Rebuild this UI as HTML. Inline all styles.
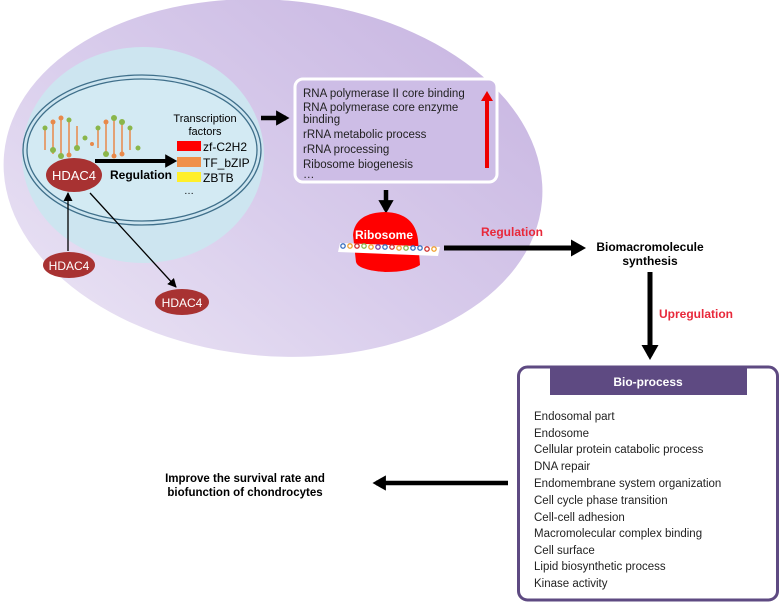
<!DOCTYPE html>
<html><head><style>body{margin:0;background:#fff}svg{display:block}</style></head><body>
<svg width="782" height="604" viewBox="0 0 782 604" xmlns="http://www.w3.org/2000/svg" font-family="Liberation Sans, Arial, sans-serif">
<defs>
<linearGradient id="cell" x1="1" y1="0" x2="0" y2="1"><stop offset="0" stop-color="#c6b3e0"/><stop offset="0.55" stop-color="#d9cdec"/><stop offset="1" stop-color="#ece6f5"/></linearGradient>
<marker id="ah" markerWidth="3" markerHeight="3.4" refX="2.2" refY="1.7" orient="auto" markerUnits="strokeWidth"><path d="M0,0 L3,1.7 L0,3.4 Z" fill="#000"/></marker>
<marker id="at" markerWidth="9" markerHeight="9" refX="8" refY="4.5" orient="auto" markerUnits="userSpaceOnUse"><path d="M0,0 L9,4.5 L0,9 Z" fill="#000"/></marker>
</defs>
<ellipse cx="273" cy="178" rx="270" ry="178" fill="url(#cell)" transform="rotate(5 273 178)"/>
<ellipse cx="143" cy="155" rx="121" ry="108" fill="#cde5f0"/>
<ellipse cx="142" cy="150" rx="119" ry="75" fill="none" stroke="#3f6f8a" stroke-width="1.3"/>
<ellipse cx="142" cy="150" rx="115" ry="71" fill="#d3eaf3" stroke="#3f6f8a" stroke-width="1.3"/>
<!-- DNA -->
<g stroke="#e8894a" stroke-width="1.5">
<line x1="45" y1="128" x2="45" y2="150"/><line x1="53" y1="122" x2="53" y2="154"/><line x1="61" y1="118" x2="61" y2="156"/><line x1="69" y1="120" x2="69" y2="155"/><line x1="77" y1="126" x2="77" y2="150"/>
<line x1="98" y1="130" x2="98" y2="148"/><line x1="106" y1="122" x2="106" y2="154"/><line x1="114" y1="118" x2="114" y2="156"/><line x1="122" y1="122" x2="122" y2="154"/><line x1="130" y1="128" x2="130" y2="150"/>
</g>
<g fill="#8ab64a"><circle cx="45" cy="128" r="2.5"/><circle cx="53" cy="150" r="3"/><circle cx="61" cy="156" r="3"/><circle cx="69" cy="120" r="2.5"/><circle cx="77" cy="148" r="3"/><circle cx="85" cy="138" r="2.5"/><circle cx="98" cy="128" r="2.5"/><circle cx="106" cy="154" r="3"/><circle cx="114" cy="118" r="3"/><circle cx="122" cy="122" r="3"/><circle cx="130" cy="128" r="2.5"/><circle cx="138" cy="148" r="2.5"/></g>
<g fill="#e8894a"><circle cx="53" cy="122" r="2.5"/><circle cx="61" cy="118" r="2.5"/><circle cx="69" cy="155" r="2.5"/><circle cx="106" cy="122" r="2.5"/><circle cx="114" cy="156" r="2.5"/><circle cx="122" cy="154" r="2.5"/><circle cx="92" cy="144" r="2"/></g>
<ellipse cx="74" cy="175" rx="28" ry="17" fill="#a83232"/>
<text x="74" y="180" font-size="13" fill="#fff" text-anchor="middle">HDAC4</text>
<line x1="95" y1="161" x2="174" y2="161" stroke="#000" stroke-width="4" marker-end="url(#ah)"/>
<text x="110" y="179" font-size="12" font-weight="bold">Regulation</text>
<text x="205" y="122" font-size="11" text-anchor="middle">Transcription</text>
<text x="205" y="135" font-size="11" text-anchor="middle">factors</text>
<rect x="177" y="141" width="24" height="10" fill="#f00"/><text x="203" y="151" font-size="12">zf-C2H2</text>
<rect x="177" y="157" width="24" height="10" fill="#f0904a"/><text x="203" y="167" font-size="12">TF_bZIP</text>
<rect x="177" y="172" width="24" height="10" fill="#ffef2a"/><text x="203" y="182" font-size="12">ZBTB</text>
<text x="184" y="194" font-size="10">…</text>
<line x1="68" y1="251" x2="68" y2="193" stroke="#000" stroke-width="1.3" marker-end="url(#at)"/>
<ellipse cx="69" cy="265" rx="26" ry="13" fill="#a83232"/><text x="69" y="270" font-size="12" fill="#fff" text-anchor="middle">HDAC4</text>
<line x1="90" y1="193" x2="176" y2="287" stroke="#000" stroke-width="1.3" marker-end="url(#at)"/>
<ellipse cx="182" cy="302" rx="27" ry="13" fill="#a83232"/><text x="182" y="307" font-size="12" fill="#fff" text-anchor="middle">HDAC4</text>
<line x1="261" y1="118" x2="286" y2="118" stroke="#000" stroke-width="4.5" marker-end="url(#ah)"/>
<rect x="295" y="79" width="202" height="103" rx="8" fill="#cdbde6" stroke="#fff" stroke-width="3"/>
<g font-size="11.5" fill="#222">
<text x="303" y="97">RNA polymerase II core binding</text>
<text x="303" y="111">RNA polymerase core enzyme</text>
<text x="303" y="123">binding</text>
<text x="303" y="138">rRNA metabolic process</text>
<text x="303" y="153">rRNA processing</text>
<text x="303" y="168">Ribosome biogenesis</text>
<text x="303" y="178">…</text>
</g>
<rect x="485" y="100" width="4" height="68" fill="#e00"/><path d="M481,101 L487,91 L493,101 Z" fill="#e00"/>
<line x1="386" y1="190" x2="386" y2="210" stroke="#000" stroke-width="4.5" marker-end="url(#ah)"/>
<path d="M353,235 Q355,213 385,212 Q415,213 418,240 L420,265 Q410,272 385,272 Q358,270 356,262 Z" fill="#f00"/>
<text x="384" y="239" font-size="12" font-weight="bold" fill="#fff" text-anchor="middle">Ribosome</text>
<polygon points="340,243 440,247 438,256 338,252" fill="#fff"/>
<g fill="none" stroke-width="1.3">
<circle cx="343" cy="246" r="2.2" stroke="#3a6fc0"/><circle cx="350" cy="246" r="2.2" stroke="#f0a030"/><circle cx="357" cy="246" r="2.2" stroke="#d03030"/><circle cx="364" cy="246" r="2.2" stroke="#8ab64a"/><circle cx="371" cy="247" r="2.2" stroke="#f0a030"/><circle cx="378" cy="247" r="2.2" stroke="#8040a0"/><circle cx="385" cy="247" r="2.2" stroke="#3a6fc0"/><circle cx="392" cy="247" r="2.2" stroke="#d03030"/><circle cx="399" cy="248" r="2.2" stroke="#f0a030"/><circle cx="406" cy="248" r="2.2" stroke="#8ab64a"/><circle cx="413" cy="248" r="2.2" stroke="#3a6fc0"/><circle cx="420" cy="248" r="2.2" stroke="#3a6fc0"/><circle cx="427" cy="249" r="2.2" stroke="#d03030"/><circle cx="434" cy="249" r="2.2" stroke="#f0a030"/>
</g>
<text x="481" y="236" font-size="12" font-weight="bold" fill="#e8283a">Regulation</text>
<line x1="444" y1="248" x2="582" y2="248" stroke="#000" stroke-width="5" marker-end="url(#ah)"/>
<text x="650" y="251" font-size="12" font-weight="bold" text-anchor="middle">Biomacromolecule</text>
<text x="650" y="265" font-size="12" font-weight="bold" text-anchor="middle">synthesis</text>
<line x1="650" y1="272" x2="650" y2="356" stroke="#000" stroke-width="5" marker-end="url(#ah)"/>
<text x="659" y="318" font-size="12" font-weight="bold" fill="#e8283a">Upregulation</text>
<rect x="518.5" y="367" width="259" height="233" rx="9" fill="#fff" stroke="#5e4a82" stroke-width="3"/>
<rect x="550" y="367" width="197" height="28" fill="#5e4a82"/>
<text x="648" y="386" font-size="12" font-weight="bold" fill="#fff" text-anchor="middle">Bio-process</text>
<g font-size="11.5" fill="#222">
<text x="534" y="420">Endosomal part</text>
<text x="534" y="437">Endosome</text>
<text x="534" y="453">Cellular protein catabolic process</text>
<text x="534" y="470">DNA repair</text>
<text x="534" y="487">Endomembrane system organization</text>
<text x="534" y="504">Cell cycle phase transition</text>
<text x="534" y="521">Cell-cell adhesion</text>
<text x="534" y="537">Macromolecular complex binding</text>
<text x="534" y="554">Cell surface</text>
<text x="534" y="570">Lipid biosynthetic process</text>
<text x="534" y="587">Kinase activity</text>
</g>
<line x1="508" y1="483" x2="376" y2="483" stroke="#000" stroke-width="4.5" marker-end="url(#ah)"/>
<text x="245" y="482" font-size="11.5" font-weight="bold" text-anchor="middle">Improve the survival rate and</text>
<text x="245" y="496" font-size="11.5" font-weight="bold" text-anchor="middle">biofunction of chondrocytes</text>
</svg>
</body></html>
